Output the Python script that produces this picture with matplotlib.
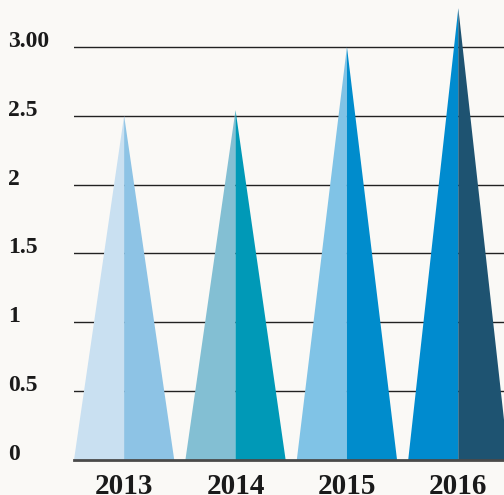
import matplotlib.pyplot as plt

# data
years = ['2013', '2014', '2015', '2016']
values = [2.5, 2.54, 3.0, 3.28]
left_colors = ['#c9e0f1', '#83bfd3', '#80c3e6', '#008bcf']
right_colors = ['#8dc3e5', '#0099b7', '#008ccc', '#1e5371']
yticks = [0, 0.5, 1, 1.5, 2, 2.5, 3]
ytick_labels = ['0', '0.5', '1', '1.5', '2', '2.5', '3.00']

bg = '#faf9f6'
fig = plt.figure(figsize=(5.04, 4.95), dpi=100, facecolor=bg)
ax = fig.add_axes([0.1468, 0.0707, 0.8532, 0.9293])
ax.set_facecolor(bg)

half = 0.45
for i, v in enumerate(values):
    ax.fill([i - half, i, i], [0, v, 0], color=left_colors[i], lw=0, zorder=3)
    ax.fill([i, i, i + half], [0, v, 0], color=right_colors[i], lw=0, zorder=3)

ax.set_xlim(-half, 3.41)
ax.set_ylim(0, 3.34)

for y in yticks[1:]:
    ax.axhline(y, color='#222222', lw=1.0, zorder=2)

for s in ['top', 'right', 'left']:
    ax.spines[s].set_visible(False)
ax.spines['bottom'].set_color('#4a4a4a')
ax.spines['bottom'].set_linewidth(2)
ax.spines['bottom'].set_zorder(4)

ax.set_yticks(yticks)
ax.set_yticklabels(ytick_labels, fontsize=17, fontweight='bold',
                   family='Liberation Serif', color='#1a1a1a')
ax.tick_params(axis='y', length=0, pad=47.5)
for lab in ax.get_yticklabels():
    lab.set_horizontalalignment('left')
    lab.set_verticalalignment('baseline')

ax.set_xticks(range(len(years)))
ax.set_xticklabels(years, fontsize=21, fontweight='bold',
                   family='Liberation Serif', color='#1a1a1a')
ax.tick_params(axis='x', length=0, pad=9)

fig.savefig('out.png', dpi=100, facecolor=bg)
